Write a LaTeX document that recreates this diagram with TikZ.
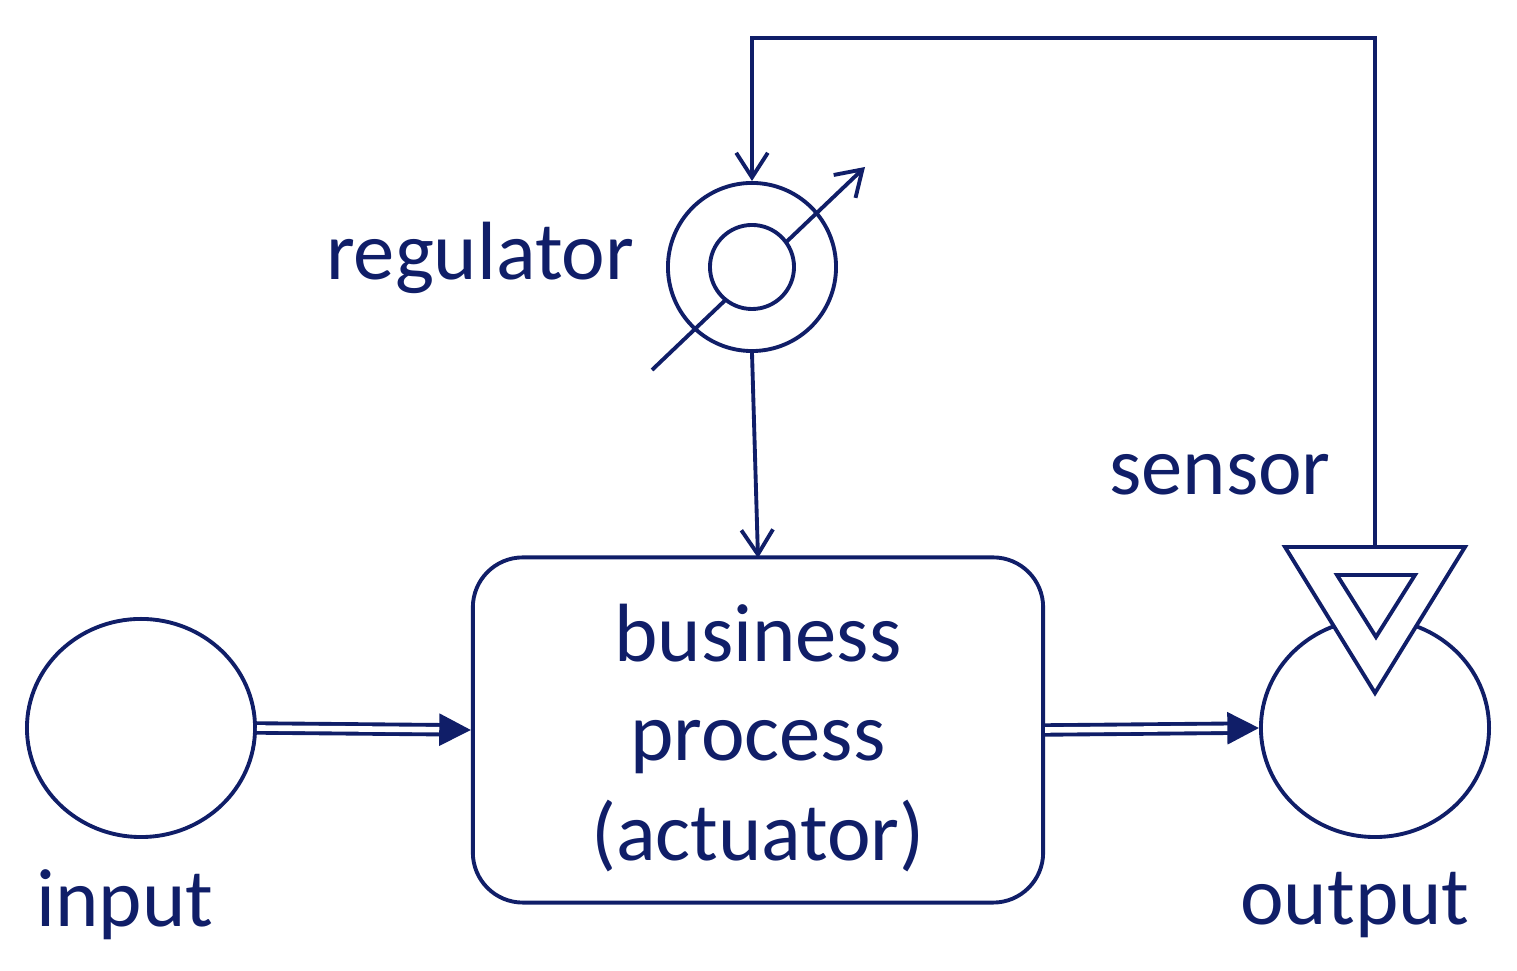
\documentclass[tikz,border=0pt]{standalone}
\usepackage{fontspec}
\setmainfont{Carlito}
\usetikzlibrary{arrows.meta,shapes.geometric}
\definecolor{navy}{RGB}{16,30,104}
\tikzset{
  ln/.style={draw=navy, line width=1.1pt},
  lbl/.style={text=navy, font=\fontsize{23.5}{28.4}\selectfont, inner sep=0pt},
  flow/.style={ln, double=white, double distance=1.6pt, -{Triangle[length=9pt,width=9pt]}},
  ctrl/.style={ln, -{Straight Barb[length=7pt,width=9pt]}}
}
\begin{document}
\begin{tikzpicture}[x=0.01cm, y=-0.01cm]
\useasboundingbox (0,0) rectangle (1517,971);

\node[ln, ellipse, minimum width=2.28cm, minimum height=2.18cm, inner sep=0pt] (in) at (141,728) {};
\node[lbl] (intxt) at (125,905) {input};

\node[ln, ellipse, minimum width=2.28cm, minimum height=2.18cm, inner sep=0pt] (out) at (1375,728) {};
\node[lbl] (outtxt) at (1355,905) {output};

\node[ln, rounded corners=0.5cm, minimum width=5.7cm, minimum height=3.45cm] (proc) at (758,730) {};
\node[lbl, align=center] (proctxt) at (758,738) {business\\process\\(actuator)};

\draw[flow] (in.east) -- (proc.west);
\draw[flow] (proc.east) -- (out.west);

% regulator
\node[ln, circle, minimum size=1.68cm] (reg) at (752,267) {};
\draw[ctrl] (652,370) -- (865,167);
\node[ln, circle, fill=white, minimum size=0.84cm] (regin) at (752,267) {};
\node[lbl, anchor=east] (regtxt) at (635,258) {regulator};
\draw[ctrl] (reg.south) -- (758,558);

% sensor
\filldraw[ln, fill=white] (1285,547) -- (1465,547) -- (1375,693) -- cycle;
\draw[ln] (1337,575) -- (1415,575) -- (1376,637) -- cycle;
\coordinate (sens) at (1375,547);
\node[lbl] (senstxt) at (1220,475) {sensor};
\draw[ctrl] (sens) |- (1000,38) -| (reg.north);
\end{tikzpicture}
\end{document}
